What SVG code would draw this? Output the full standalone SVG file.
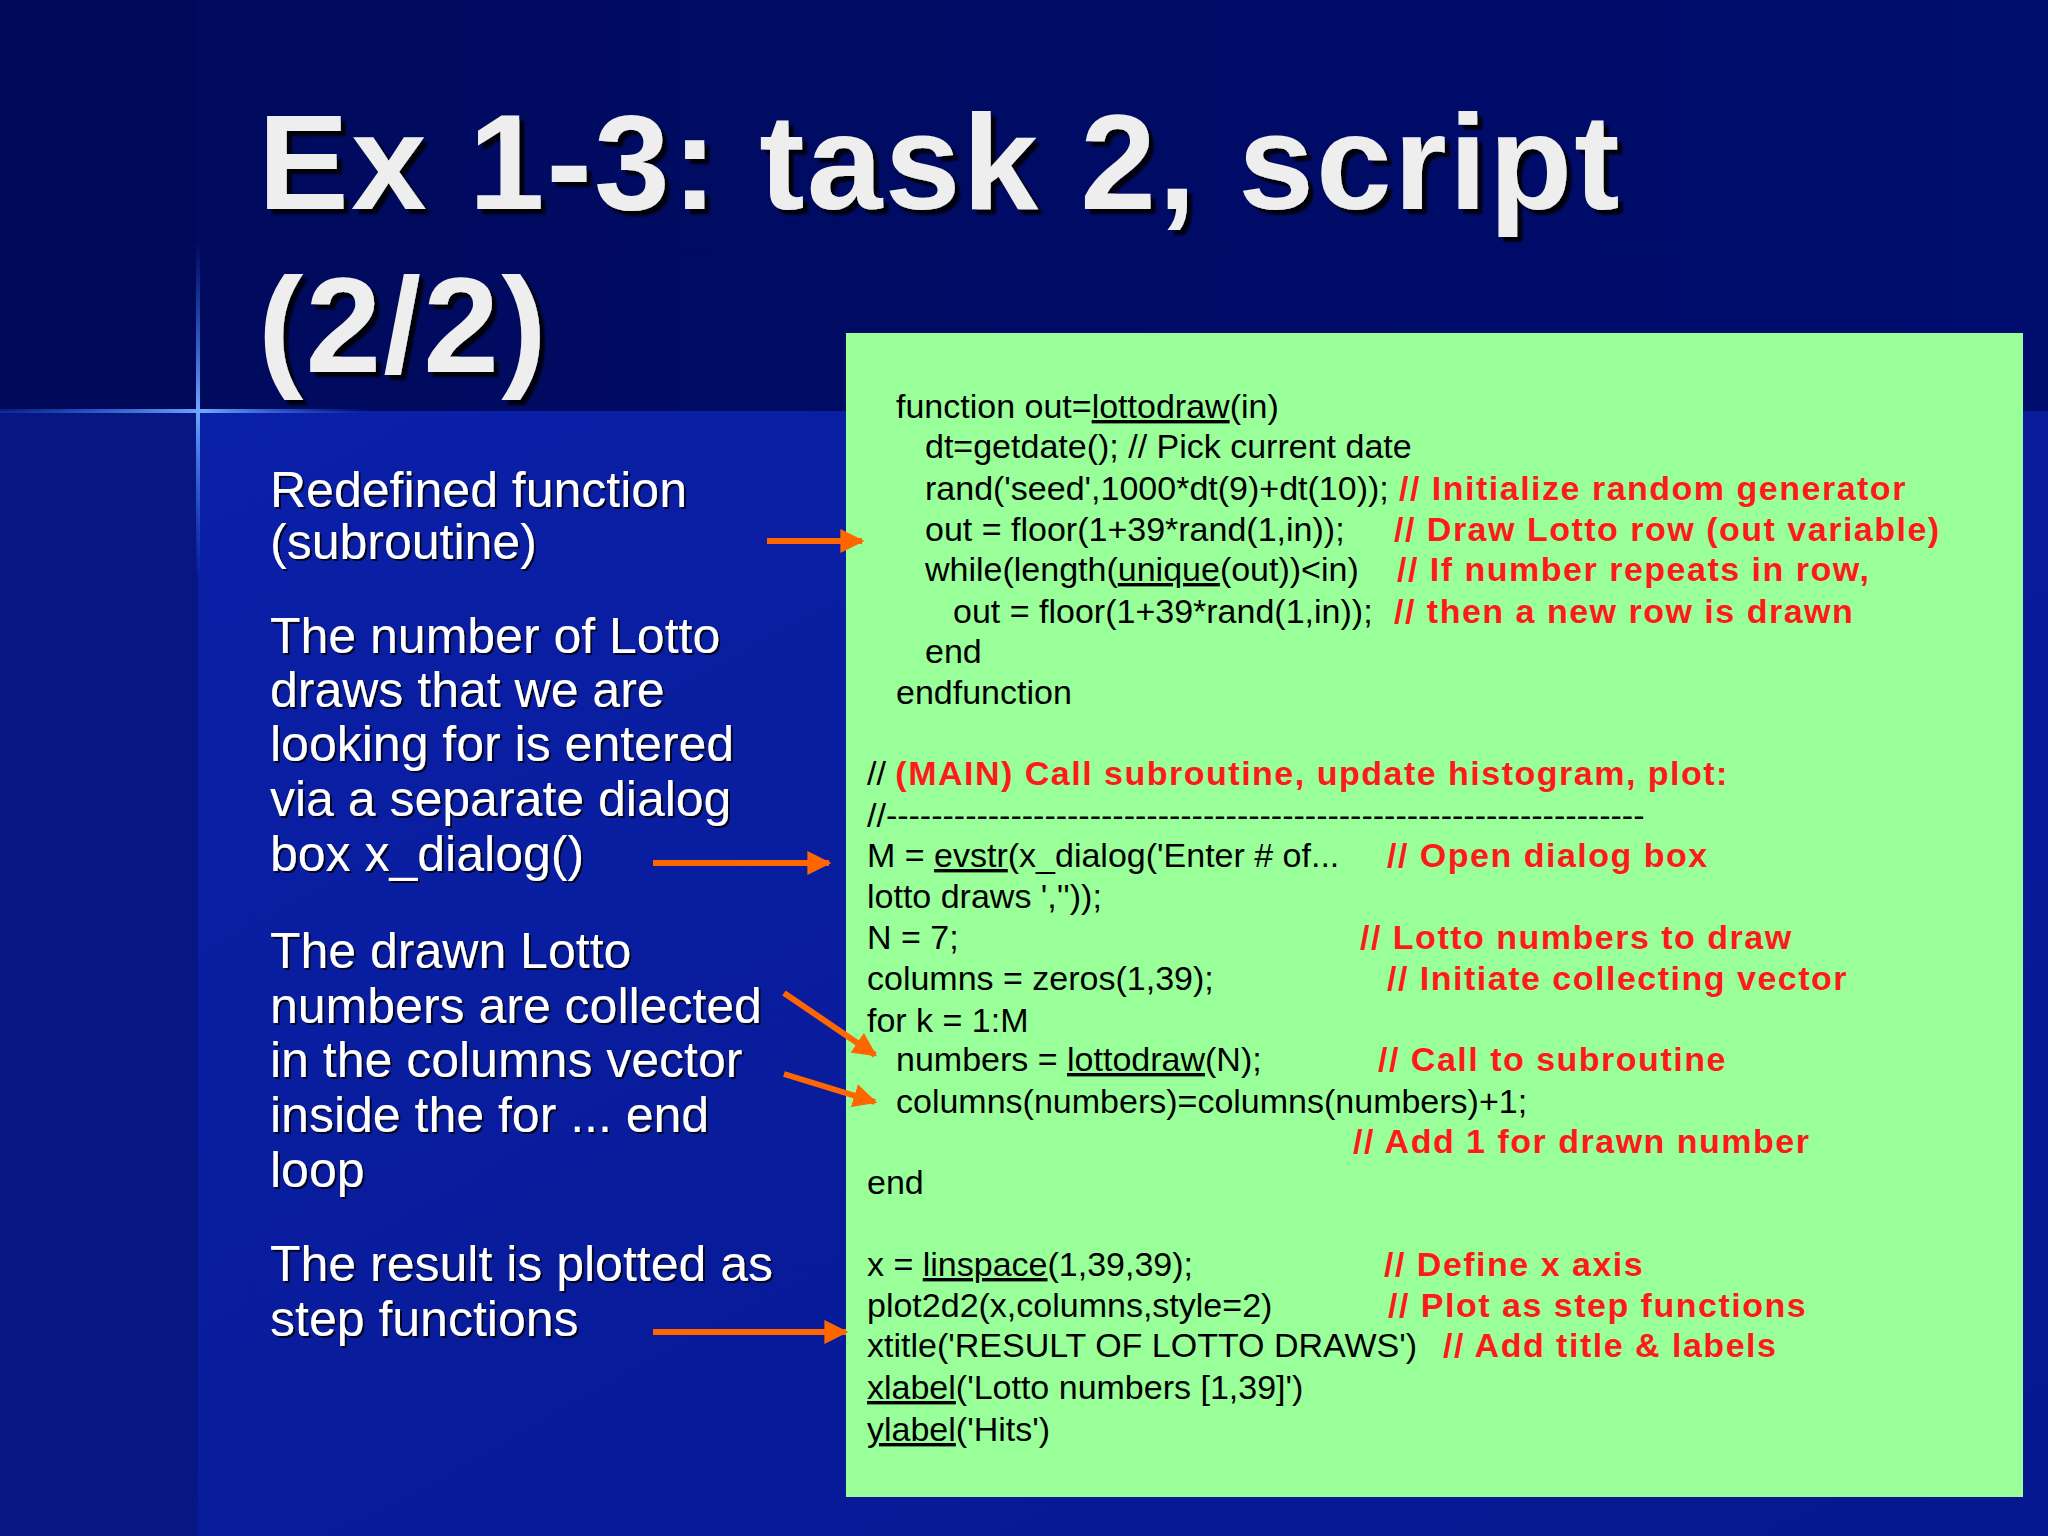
<svg xmlns="http://www.w3.org/2000/svg" width="2048" height="1536" viewBox="0 0 2048 1536">
<defs>
<linearGradient id="bgTop" x1="0" y1="0" x2="1" y2="0"><stop offset="0" stop-color="#000a5c"/><stop offset="1" stop-color="#000c6e"/></linearGradient>
<linearGradient id="bgBot" x1="0" y1="0" x2="1" y2="1"><stop offset="0" stop-color="#0a20a8"/><stop offset="1" stop-color="#061890"/></linearGradient>
<linearGradient id="hl" x1="0" y1="0" x2="1" y2="0"><stop offset="0" stop-color="#2a6cff" stop-opacity="0.2"/><stop offset="0.55" stop-color="#6fa8ff"/><stop offset="1" stop-color="#2a6cff" stop-opacity="0"/></linearGradient>
<linearGradient id="vl" x1="0" y1="0" x2="0" y2="1"><stop offset="0" stop-color="#2a6cff" stop-opacity="0"/><stop offset="0.5" stop-color="#6fa8ff"/><stop offset="1" stop-color="#2a6cff" stop-opacity="0"/></linearGradient>
<marker id="ah" viewBox="0 0 10 10" refX="9" refY="5" markerWidth="4" markerHeight="4" orient="auto" markerUnits="strokeWidth"><path d="M0,0 L10,5 L0,10 z" fill="#ff6600"/></marker>
<filter id="sh" x="-5%" y="-5%" width="110%" height="120%"><feDropShadow dx="5" dy="5" stdDeviation="1" flood-color="#000000" flood-opacity="0.9"/></filter>
<filter id="sh2"><feDropShadow dx="2" dy="2" stdDeviation="0.5" flood-color="#000000" flood-opacity="0.8"/></filter>
</defs>
<style>
.t{font-family:"Liberation Sans",Arial,sans-serif;font-weight:bold;font-size:136px;fill:#eeeeee;letter-spacing:2.2px}
.l{font-family:"Liberation Sans",Arial,sans-serif;font-size:50px;fill:#ffffff}
.c{font-family:"Liberation Sans",Arial,sans-serif;font-size:34px;fill:#000000}
.r{font-family:"Liberation Sans",Arial,sans-serif;font-size:34px;font-weight:bold;fill:#ff1a1a;letter-spacing:1.5px}
.u{text-decoration:underline}
.a{stroke:#ff6600;stroke-width:6;fill:none;marker-end:url(#ah)}
</style>
<rect x="0" y="0" width="2048" height="1536" fill="url(#bgTop)"/>
<rect x="0" y="411" width="2048" height="1125" fill="url(#bgBot)"/>
<rect x="0" y="411" width="198" height="1125" fill="#061682"/>
<rect x="0" y="0" width="198" height="411" fill="#00085a"/>
<rect x="0" y="409" width="370" height="4" fill="url(#hl)"/>
<rect x="196" y="240" width="4" height="340" fill="url(#vl)"/>
<g id="title" filter="url(#sh)">
<text class="t" x="258" y="209">Ex 1-3: task 2, script</text>
<text class="t" x="258" y="372">(2/2)</text>
</g>
<g id="left" filter="url(#sh2)">
<text class="l" x="270" y="507">Redefined function</text>
<text class="l" x="270" y="559">(subroutine)</text>
<text class="l" x="270" y="653">The number of Lotto</text>
<text class="l" x="270" y="707">draws that we are</text>
<text class="l" x="270" y="761">looking for is entered</text>
<text class="l" x="270" y="816">via a separate dialog</text>
<text class="l" x="270" y="871">box x_dialog()</text>
<text class="l" x="270" y="968">The drawn Lotto</text>
<text class="l" x="270" y="1023">numbers are collected</text>
<text class="l" x="270" y="1077">in the columns vector</text>
<text class="l" x="270" y="1132">inside the for ... end</text>
<text class="l" x="270" y="1187">loop</text>
<text class="l" x="270" y="1281">The result is plotted as</text>
<text class="l" x="270" y="1336">step functions</text>
</g>
<g id="codebox">
<rect x="846" y="333" width="1177" height="1164" fill="#99ff99"/>
<text class="c" x="896" y="418">function out=<tspan class="u">lottodraw</tspan>(in)</text>
<text class="c" x="925" y="458">dt=getdate(); // Pick current date</text>
<text class="c" x="925" y="500">rand('seed',1000*dt(9)+dt(10));</text><text class="r" x="1399" y="500">// Initialize random generator</text>
<text class="c" x="925" y="541">out = floor(1+39*rand(1,in));</text><text class="r" x="1394" y="541">// Draw Lotto row (out variable)</text>
<text class="c" x="925" y="581">while(length(<tspan class="u">unique</tspan>(out))&lt;in)</text><text class="r" x="1397" y="581">// If number repeats in row,</text>
<text class="c" x="953" y="623">out = floor(1+39*rand(1,in));</text><text class="r" x="1394" y="623">// then a new row is drawn</text>
<text class="c" x="925" y="663">end</text>
<text class="c" x="896" y="704">endfunction</text>
<text class="c" x="867" y="785">// <tspan class="r">(MAIN) Call subroutine, update histogram, plot:</tspan></text>
<text class="c" x="867" y="827">//-------------------------------------------------------------------</text>
<text class="c" x="867" y="867">M = <tspan class="u">evstr</tspan>(x_dialog('Enter # of...</text><text class="r" x="1387" y="867">// Open dialog box</text>
<text class="c" x="867" y="908">lotto draws ',''));</text>
<text class="c" x="867" y="949">N = 7;</text><text class="r" x="1360" y="949">// Lotto numbers to draw</text>
<text class="c" x="867" y="990">columns = zeros(1,39);</text><text class="r" x="1387" y="990">// Initiate collecting vector</text>
<text class="c" x="867" y="1032">for k = 1:M</text>
<text class="c" x="896" y="1071">numbers = <tspan class="u">lottodraw</tspan>(N);</text><text class="r" x="1378" y="1071">// Call to subroutine</text>
<text class="c" x="896" y="1113">columns(numbers)=columns(numbers)+1;</text>
<text class="r" x="1353" y="1153">// Add 1 for drawn number</text>
<text class="c" x="867" y="1194">end</text>
<text class="c" x="867" y="1276">x = <tspan class="u">linspace</tspan>(1,39,39);</text><text class="r" x="1384" y="1276">// Define x axis</text>
<text class="c" x="867" y="1317">plot2d2(x,columns,style=2)</text><text class="r" x="1388" y="1317">// Plot as step functions</text>
<text class="c" x="867" y="1357">xtitle('RESULT OF LOTTO DRAWS')</text><text class="r" x="1443" y="1357">// Add title &amp; labels</text>
<text class="c" x="867" y="1399"><tspan class="u">xlabel</tspan>('Lotto numbers [1,39]')</text>
<text class="c" x="867" y="1441"><tspan class="u">ylabel</tspan>('Hits')</text>
</g>
<g id="connectors">
<line class="a" x1="767" y1="541" x2="862" y2="541"/>
<line class="a" x1="653" y1="863" x2="829" y2="863"/>
<line class="a" x1="784" y1="993" x2="875" y2="1055"/>
<line class="a" x1="784" y1="1074" x2="875" y2="1102"/>
<line class="a" x1="653" y1="1332" x2="846" y2="1332"/>
</g>
</svg>
